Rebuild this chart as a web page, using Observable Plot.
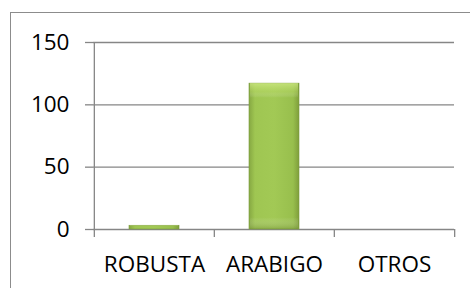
<!DOCTYPE html>
<html>
<head>
<meta charset="utf-8">
<script src="https://cdn.jsdelivr.net/npm/d3@7"></script>
<script src="https://cdn.jsdelivr.net/npm/@observablehq/plot@0.6"></script>
<style>
  html, body { margin: 0; padding: 0; background: #fff; overflow: hidden; }
  #wrap { position: relative; width: 470px; height: 288px; overflow: hidden; }
  #border { position: absolute; left: 10px; top: 12px; width: 500px; height: 320px;
            border: 1px solid #8c8c8c; pointer-events: none; box-sizing: border-box; }
</style>
</head>
<body>
<div id="wrap"><div id="border"></div></div>
<script>
const categories = ["ROBUSTA", "ARABIGO", "OTROS"];
const values = [3, 117, 0];
const yTicks = [0, 50, 100, 150];

const data = categories.map((c, i) => ({cat: c, value: values[i]}));

const W = 470, H = 288;
const mL = 93, mR = 16, mT = 42, mB = 59;
const step = (W - mL - mR) / categories.length;
const pad = 0.584;

const gray = "#868686";
const fs = 22.5;

const plot = Plot.plot({
  width: W,
  height: H,
  marginLeft: mL,
  marginRight: mR,
  marginTop: mT,
  marginBottom: mB,
  style: {fontFamily: "'Open Sans', sans-serif", fontSize: fs + "px", color: "#000", background: "transparent", overflow: "visible"},
  x: {domain: categories, paddingInner: pad, paddingOuter: pad / 2, align: 0.5, label: null},
  y: {domain: [0, 150], label: null},
  marks: [
    Plot.gridY(yTicks, {stroke: gray, strokeOpacity: 1, strokeWidth: 1.3}),
    Plot.barY(data, {x: "cat", y: "value", fill: "url(#barGrad)", stroke: "#7b9a3c", strokeWidth: 0.6}),
    Plot.barY(data, {x: "cat", y: "value", fill: "url(#barShade)", insetLeft: 1, insetRight: 1}),
    // left axis line
    Plot.ruleX([categories[0]], {x: d => d, dx: -step / 2, y1: 150, y2: 0, insetBottom: -8, stroke: gray, strokeWidth: 1.3}),
    // category boundary ticks
    Plot.ruleX(categories.slice(1), {x: d => d, dx: -step / 2, y1: 0, y2: 0, insetBottom: -8, stroke: gray, strokeWidth: 1.3}),
    Plot.ruleX([categories[categories.length - 1]], {x: d => d, dx: step / 2, y1: 0, y2: 0, insetBottom: -8, stroke: gray, strokeWidth: 1.3}),
    Plot.axisY(yTicks, {tickSize: 8, tickPadding: 16, stroke: gray, strokeWidth: 1.3, fill: "#000", fontSize: fs, label: null, tickFormat: d => String(d)}),
    Plot.axisX({tickSize: 0, tickPadding: 27, fill: "#000", fontSize: fs, label: null})
  ]
});

// gradients for bevel-like bars
const ns = "http://www.w3.org/2000/svg";
const defs = document.createElementNS(ns, "defs");
function grad(id, vertical, stops) {
  const lg = document.createElementNS(ns, "linearGradient");
  lg.setAttribute("id", id);
  lg.setAttribute("x1", "0"); lg.setAttribute("y1", "0");
  lg.setAttribute("x2", vertical ? "0" : "1"); lg.setAttribute("y2", vertical ? "1" : "0");
  stops.forEach(([o, c, op]) => {
    const s = document.createElementNS(ns, "stop");
    s.setAttribute("offset", o); s.setAttribute("stop-color", c);
    s.setAttribute("stop-opacity", op);
    lg.appendChild(s);
  });
  defs.appendChild(lg);
}
grad("barGrad", false, [["0%", "#86a842", 1], ["12%", "#9fc652", 1], ["50%", "#a2c955", 1], ["88%", "#98bf4d", 1], ["100%", "#7f9e3b", 1]]);
grad("barShade", true, [["0%", "#d4ee8a", 0.7], ["6%", "#c0e070", 0.35], ["10%", "#ffffff", 0], ["92%", "#ffffff", 0], ["100%", "#6e8c32", 0.45]]);
plot.insertBefore(defs, plot.firstChild);

document.getElementById("wrap").insertBefore(plot, document.getElementById("border"));
</script>
</body>
</html>
